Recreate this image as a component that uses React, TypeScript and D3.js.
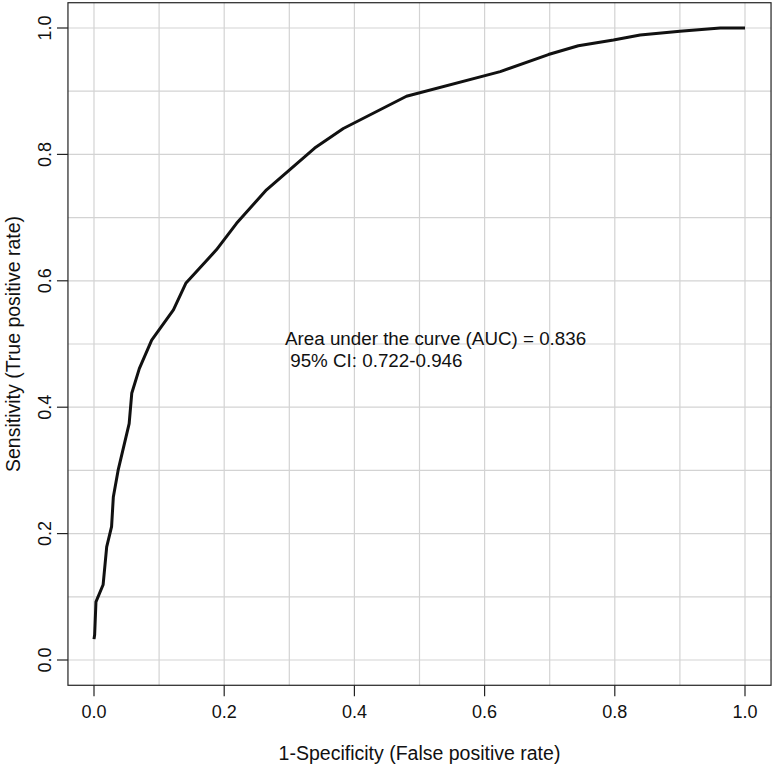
import React from "react";
import * as d3 from "d3";

const fpr = [0, 0.001, 0.003, 0.014, 0.0195, 0.027, 0.0297, 0.037, 0.054, 0.058, 0.0696, 0.0886, 0.122, 0.141, 0.188, 0.219, 0.265, 0.339, 0.383, 0.48, 0.624, 0.698, 0.744, 0.798, 0.839, 0.9, 0.962, 1.0];
const tpr = [0.033, 0.04, 0.092, 0.119, 0.179, 0.211, 0.258, 0.3, 0.374, 0.422, 0.461, 0.506, 0.554, 0.596, 0.649, 0.691, 0.744, 0.81, 0.841, 0.892, 0.931, 0.958, 0.972, 0.981, 0.989, 0.995, 1.0, 1.0];
const tickValues = [0, 0.2, 0.4, 0.6, 0.8, 1.0];
const gridValues = [0, 0.1, 0.2, 0.3, 0.4, 0.5, 0.6, 0.7, 0.8, 0.9, 1.0];
const annotationLines = ["Area under the curve (AUC) = 0.836", " 95% CI: 0.722-0.946"];
const xLabel = "1-Specificity (False positive rate)";
const yLabel = "Sensitivity (True positive rate)";

const W = 774;
const H = 766;
const FONT = "'Liberation Sans', Arial, Helvetica, sans-serif";

export default function App() {
  const x = d3.scaleLinear().domain([0, 1]).range([94, 745]);
  const y = d3.scaleLinear().domain([0, 1]).range([660, 28]);
  const x0 = x(-0.04), x1 = x(1.04);
  const y0 = y(-0.04), y1 = y(1.04);
  const pts = fpr.map((f, i) => [f, tpr[i]] as [number, number]);
  const line = d3.line<[number, number]>().x((d) => x(d[0])).y((d) => y(d[1]));
  const fmt = d3.format(".1f");

  return (
    <svg width={W} height={H} style={{ position: "absolute", left: 0, top: 0, background: "#fff" }} fontFamily={FONT}>
      <rect x={0} y={0} width={W} height={H} fill="#fff" />
      {gridValues.map((g) => (
        <line key={"vx" + g} x1={x(g)} x2={x(g)} y1={y0} y2={y1} stroke="#d3d3d3" strokeWidth={1.2} />
      ))}
      {gridValues.map((g) => (
        <line key={"hy" + g} x1={x0} x2={x1} y1={y(g)} y2={y(g)} stroke="#d3d3d3" strokeWidth={1.2} />
      ))}
      <path d={line(pts) || ""} fill="none" stroke="#111" strokeWidth={3} strokeLinejoin="round" />
      <rect x={x0} y={y1} width={x1 - x0} height={y0 - y1} fill="none" stroke="#222" strokeWidth={1.2} />
      {tickValues.map((t) => (
        <g key={"xt" + t}>
          <line x1={x(t)} x2={x(t)} y1={y0} y2={y0 + 11} stroke="#222" strokeWidth={1.2} />
          <text x={x(t)} y={717.5} textAnchor="middle" fontSize={18} fill="#111">{fmt(t)}</text>
        </g>
      ))}
      {tickValues.map((t) => (
        <g key={"yt" + t}>
          <line x1={x0} x2={x0 - 11} y1={y(t)} y2={y(t)} stroke="#222" strokeWidth={1.2} />
          <text transform={`translate(50.5,${y(t)}) rotate(-90)`} textAnchor="middle" fontSize={18} fill="#111">{fmt(t)}</text>
        </g>
      ))}
      <text x={(x0 + x1) / 2} y={760} textAnchor="middle" fontSize={19.5} fill="#111">{xLabel}</text>
      <text transform={`translate(20,${(y0 + y1) / 2}) rotate(-90)`} textAnchor="middle" fontSize={19.5} fill="#111">{yLabel}</text>
      {annotationLines.map((s, i) => (
        <text key={"a" + i} x={x(0.2934)} y={y(0.498) + i * 22} fontSize={18.8} fill="#111" style={{ whiteSpace: "pre" }}>{s}</text>
      ))}
    </svg>
  );
}
